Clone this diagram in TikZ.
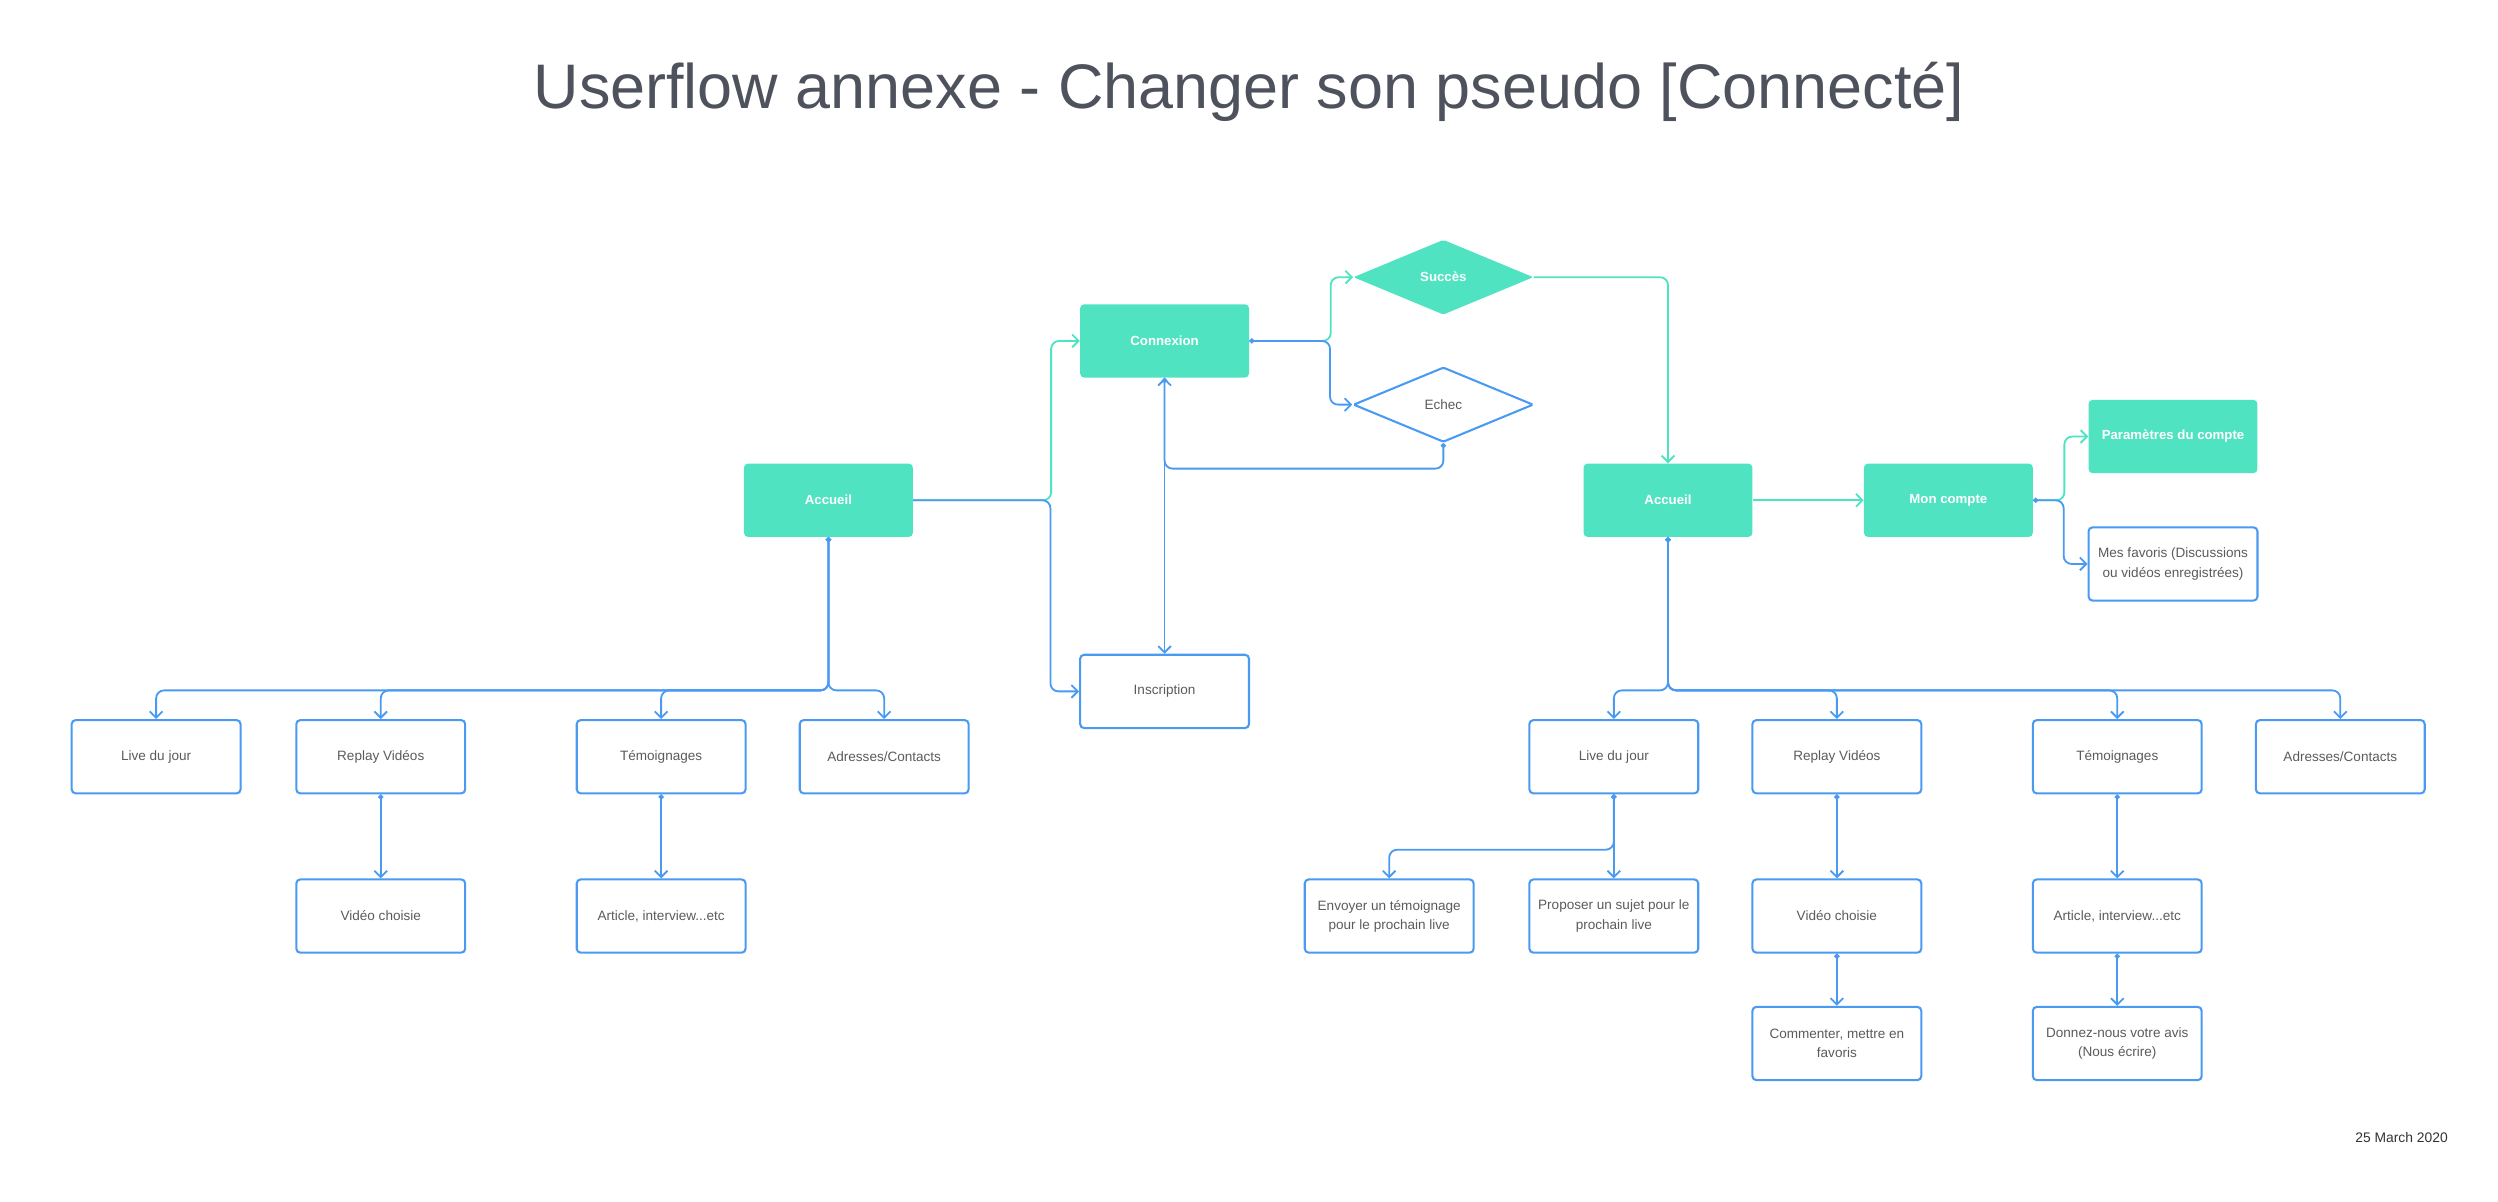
\documentclass[tikz,border=0pt]{standalone}
\usepackage{fontspec}
\setmainfont{Liberation Sans}
\usetikzlibrary{arrows.meta, shapes.geometric}
\definecolor{uxgreen}{HTML}{50E3C2}
\definecolor{uxblue}{HTML}{4A9AF2}
\definecolor{uxtext}{HTML}{5B5B5B}
\definecolor{uxtitle}{HTML}{4D525C}

\begin{document}
\begin{tikzpicture}[x=1pt, y=-1pt,
    screen/.style={rounded corners=2.5pt, minimum width=106pt, minimum height=46pt,
                   inner sep=2pt, align=center, font=\fontsize{8.5}{12}\selectfont},
    okbox/.style={screen, fill=uxgreen, text=white, font=\fontsize{8.3}{12}\selectfont\bfseries},
    pagebox/.style={screen, draw=uxblue, line width=1.3pt, fill=white, text=uxtext},
    decision/.style={diamond, rounded corners=1pt, minimum width=113pt, minimum height=47pt,
                     inner sep=0pt, font=\fontsize{8.5}{12}\selectfont},
    link/.style={-{Straight Barb[length=4pt, width=8pt]}, line width=1.15pt, rounded corners=5pt, #1},
    dlink/.style={link=#1, {Circle[length=3.2pt]}-{Straight Barb[length=4pt, width=8pt]}},
]
    \useasboundingbox (0,0) rectangle (1568,754);

    % Title and date
    \node[anchor=base, text=uxtitle, font=\fontsize{39.5}{47}\selectfont] (title) at (784,68) {Userflow annexe - Changer son pseudo [Connecté]};
    \node[anchor=east, text=black!80, font=\fontsize{8.7}{11}\selectfont] (date) at (1540,714) {25 March 2020};

    % Login
    \node[okbox] (accueilL) at (520,314) {Accueil};
    \node[okbox] (connexion) at (731,214) {Connexion};
    \node[pagebox] (inscription) at (731,434) {Inscription};
    \node[decision, fill=uxgreen, text=white, font=\fontsize{8.3}{12}\selectfont\bfseries] (succes) at (906,174) {Succès};
    \node[decision, draw=uxblue, line width=1.3pt, fill=white, text=uxtext] (echec) at (906,254) {Echec};

    % Connected side
    \node[okbox] (accueilR) at (1047,314) {Accueil};
    \node[okbox] (moncompte) at (1223,314) {Mon compte};
    \node[okbox] (parametres) at (1364,274) {Paramètres du compte};
    \node[pagebox] (favoris) at (1364,354) {Mes favoris (Discussions\\ou vidéos enregistrées)};

    % Menu, not connected
    \node[pagebox] (liveL) at (98,475) {Live du jour};
    \node[pagebox] (replayL) at (239,475) {Replay Vidéos};
    \node[pagebox] (temoL) at (415,475) {Témoignages};
    \node[pagebox] (adressesL) at (555,475) {Adresses/Contacts};
    \node[pagebox] (videoL) at (239,575) {Vidéo choisie};
    \node[pagebox] (articleL) at (415,575) {Article, interview...etc};

    % Menu, connected
    \node[pagebox] (liveR) at (1013,475) {Live du jour};
    \node[pagebox] (replayR) at (1153,475) {Replay Vidéos};
    \node[pagebox] (temoR) at (1329,475) {Témoignages};
    \node[pagebox] (adressesR) at (1469,475) {Adresses/Contacts};
    \node[pagebox] (envoyerR) at (872,575) {Envoyer un témoignage\\pour le prochain live};
    \node[pagebox] (proposerR) at (1013,575) {Proposer un sujet pour le\\prochain live};
    \node[pagebox] (videoR) at (1153,575) {Vidéo choisie};
    \node[pagebox] (articleR) at (1329,575) {Article, interview...etc};
    \node[pagebox] (commenterR) at (1153,655) {Commenter, mettre en\\favoris};
    \node[pagebox] (avisR) at (1329,655) {Donnez-nous votre avis\\(Nous écrire)};

    % Login links
    \draw[link=uxgreen] (accueilL.east) -| ([xshift=-18pt]connexion.west) -- (connexion.west);
    \draw[link=uxblue] (accueilL.east) -| ([xshift=-18pt]inscription.west) -- (inscription.west);
    \draw[link=uxgreen] (connexion.east) -| ([xshift=-14pt]succes.west) -- (succes.west);
    \draw[dlink=uxblue] (connexion.east) -| ([xshift=-14pt]echec.west) -- (echec.west);
    \draw[dlink=uxblue] (echec.south) -- ++(0,16) -| (connexion.south);
    \draw[dlink=uxblue] (connexion.south) -- (inscription.north);
    \draw[link=uxgreen] (succes.east) -| (accueilR.north);

    % Account links
    \draw[link=uxgreen] (accueilR) -- (moncompte);
    \draw[link=uxgreen] (moncompte.east) -| ([xshift=-15pt]parametres.west) -- (parametres.west);
    \draw[dlink=uxblue] (moncompte.east) -| ([xshift=-15pt]favoris.west) -- (favoris.west);

    % Menu links, not connected
    \draw[dlink=uxblue] (accueilL.south) |- ([yshift=18pt]liveL.north) -- (liveL.north);
    \draw[dlink=uxblue] (accueilL.south) |- ([yshift=18pt]replayL.north) -- (replayL.north);
    \draw[dlink=uxblue] (accueilL.south) |- ([yshift=18pt]temoL.north) -- (temoL.north);
    \draw[dlink=uxblue] (accueilL.south) |- ([yshift=18pt]adressesL.north) -- (adressesL.north);
    \draw[dlink=uxblue] (replayL.south) -- (videoL.north);
    \draw[dlink=uxblue] (temoL.south) -- (articleL.north);

    % Menu links, connected
    \draw[dlink=uxblue] (accueilR.south) |- ([yshift=18pt]liveR.north) -- (liveR.north);
    \draw[dlink=uxblue] (accueilR.south) |- ([yshift=18pt]replayR.north) -- (replayR.north);
    \draw[dlink=uxblue] (accueilR.south) |- ([yshift=18pt]temoR.north) -- (temoR.north);
    \draw[dlink=uxblue] (accueilR.south) |- ([yshift=18pt]adressesR.north) -- (adressesR.north);
    \draw[dlink=uxblue] (liveR.south) |- ([yshift=18pt]envoyerR.north) -- (envoyerR.north);
    \draw[dlink=uxblue] (liveR.south) -- (proposerR.north);
    \draw[dlink=uxblue] (replayR.south) -- (videoR.north);
    \draw[dlink=uxblue] (videoR.south) -- (commenterR.north);
    \draw[dlink=uxblue] (temoR.south) -- (articleR.north);
    \draw[dlink=uxblue] (articleR.south) -- (avisR.north);
\end{tikzpicture}
\end{document}
